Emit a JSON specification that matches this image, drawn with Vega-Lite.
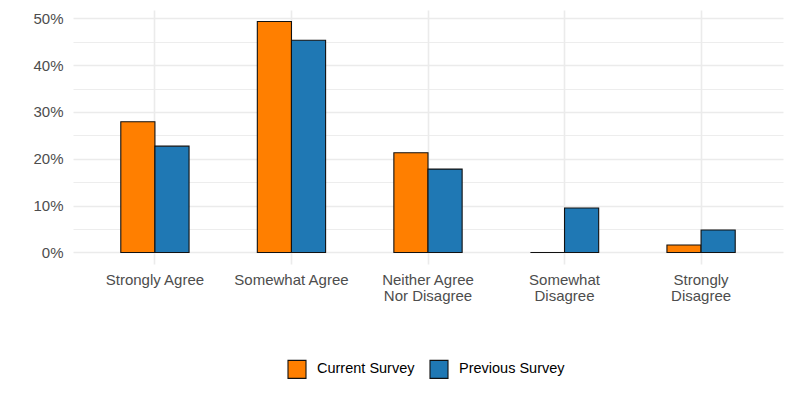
{
  "$schema": "https://vega.github.io/schema/vega-lite/v6.json",
  "width": 710,
  "height": 254,
  "autosize": "none",
  "padding": {"left": 73, "top": 10, "right": 10, "bottom": 133},
  "background": "white",
  "config": {
    "view": {"stroke": null},
    "font": "Liberation Sans"
  },
  "data": {
    "values": [
      {"response": "Strongly Agree", "survey": "Current Survey", "pct": 0.279},
      {"response": "Strongly Agree", "survey": "Previous Survey", "pct": 0.227},
      {"response": "Somewhat Agree", "survey": "Current Survey", "pct": 0.493},
      {"response": "Somewhat Agree", "survey": "Previous Survey", "pct": 0.453},
      {"response": "Neither Agree Nor Disagree", "survey": "Current Survey", "pct": 0.213},
      {"response": "Neither Agree Nor Disagree", "survey": "Previous Survey", "pct": 0.178},
      {"response": "Somewhat Disagree", "survey": "Current Survey", "pct": 0.0},
      {"response": "Somewhat Disagree", "survey": "Previous Survey", "pct": 0.095},
      {"response": "Strongly Disagree", "survey": "Current Survey", "pct": 0.016},
      {"response": "Strongly Disagree", "survey": "Previous Survey", "pct": 0.048}
    ]
  },
  "mark": {"type": "bar", "stroke": "#111111", "strokeWidth": 1.1},
  "encoding": {
    "x": {
      "field": "response",
      "type": "nominal",
      "sort": ["Strongly Agree", "Somewhat Agree", "Neither Agree Nor Disagree", "Somewhat Disagree", "Strongly Disagree"],
      "scale": {"paddingInner": 0.5, "paddingOuter": 0.35},
      "axis": {
        "title": null,
        "labelAngle": 0,
        "domain": false,
        "ticks": false,
        "bandPosition": 0.5,
        "grid": true,
        "gridColor": "#EBEBEB",
        "gridWidth": 1.6,
        "labelPadding": 8,
        "labelFontSize": 15,
        "labelColor": "#4D4D4D",
        "labelLineHeight": 16.5,
        "labelBaseline": "top",
        "labelExpr": "datum.value == 'Neither Agree Nor Disagree' ? ['Neither Agree', 'Nor Disagree'] : datum.value == 'Somewhat Disagree' ? ['Somewhat', 'Disagree'] : datum.value == 'Strongly Disagree' ? ['Strongly', 'Disagree'] : datum.value"
      }
    },
    "xOffset": {"field": "survey", "sort": ["Current Survey", "Previous Survey"]},
    "y": {
      "field": "pct",
      "type": "quantitative",
      "scale": {"domain": [-0.0247, 0.5177], "nice": false, "zero": false},
      "axis": {
        "title": null,
        "domain": false,
        "ticks": false,
        "values": [0, 0.05, 0.1, 0.15, 0.2, 0.25, 0.3, 0.35, 0.4, 0.45, 0.5],
        "format": ".0%",
        "labelExpr": "round(datum.value * 100) % 10 == 0 ? datum.label : ''",
        "labelPadding": 10,
        "labelFontSize": 15,
        "labelColor": "#4D4D4D",
        "gridColor": "#EBEBEB",
        "gridWidth": {"condition": {"test": "round(datum.value * 100) % 10 == 0", "value": 1.6}, "value": 0.9}
      }
    },
    "y2": {"datum": 0},
    "color": {
      "field": "survey",
      "type": "nominal",
      "scale": {"domain": ["Current Survey", "Previous Survey"], "range": ["#FF7F00", "#1F78B4"]},
      "legend": {
        "title": null,
        "orient": "none",
        "direction": "horizontal",
        "legendX": 214,
        "legendY": 349,
        "symbolType": "square",
        "symbolSize": 324,
        "symbolStrokeColor": "#111111",
        "symbolStrokeWidth": 1.1,
        "symbolOpacity": 1,
        "labelFontSize": 14.5,
        "labelColor": "#000000",
        "labelOffset": 10,
        "columnPadding": 12
      }
    }
  }
}
